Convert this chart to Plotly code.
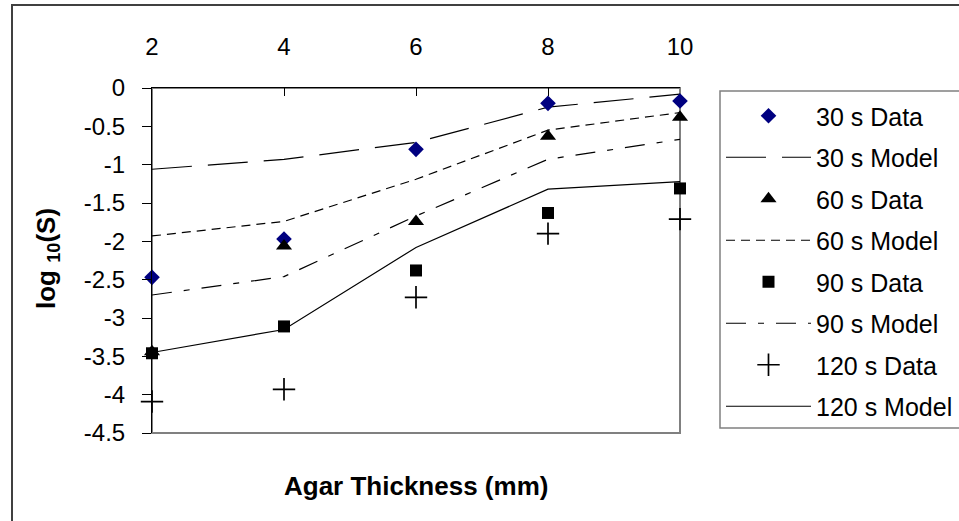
import plotly.graph_objects as go

# Agar thickness (mm)
thickness = [2, 4, 6, 8, 10]

# log10 survival, measured
data_30 = [-2.47, -1.97, -0.80, -0.20, -0.17]
data_60 = [-3.44, -2.06, -1.74, -0.63, -0.38]
data_90 = [-3.46, -3.11, -2.38, -1.63, -1.31]
data_120 = [-4.09, -3.93, -2.73, -1.90, -1.71]

# log10 survival, model
model_30 = [-1.06, -0.93, -0.71, -0.25, -0.08]
model_60 = [-1.93, -1.74, -1.19, -0.55, -0.32]
model_90 = [-2.70, -2.46, -1.67, -0.93, -0.67]
model_120 = [-3.45, -3.15, -2.08, -1.32, -1.22]

x_ticks = [2, 4, 6, 8, 10]
y_ticks = [0, -0.5, -1, -1.5, -2, -2.5, -3, -3.5, -4, -4.5]
y_tick_text = ["0", "-0.5", "-1", "-1.5", "-2", "-2.5", "-3", "-3.5", "-4", "-4.5"]

# canvas geometry (pixels)
W, H = 959, 521
L, R, T, B = 152, 680, 88, 433


def px(xp):
    return (xp - L) / (R - L)


def py(yp):
    return (B - yp) / (B - T)


FONT = "Liberation Sans, Arial, sans-serif"

fig = go.Figure()

models = [
    ("30 s Model", model_30, "40px,16px", 2),
    ("60 s Model", model_60, "9px,6px", 4),
    ("90 s Model", model_90, "20px,12px,6px,12px", 6),
    ("120 s Model", model_120, "solid", 8),
]
for name, ys, dash, rank in models:
    fig.add_trace(go.Scatter(
        x=thickness, y=ys, mode="lines", name=name,
        line=dict(color="black", width=1.2, dash=dash),
        legendrank=rank, legendgroup=name, cliponaxis=False,
    ))

datasets = [
    ("30 s Data", data_30, dict(symbol="diamond", size=12, color="#000080"), 1),
    ("60 s Data", data_60, dict(symbol="triangle-up", size=14, color="black"), 3),
    ("90 s Data", data_90, dict(symbol="square", size=12, color="black"), 5),
    ("120 s Data", data_120, dict(symbol="cross-thin", size=16, color="black",
                                  line=dict(color="black", width=1.7)), 7),
]
for name, ys, marker, rank in datasets:
    fig.add_trace(go.Scatter(
        x=thickness, y=ys, mode="markers", name=name,
        marker=marker, legendrank=rank, legendgroup=name, cliponaxis=False,
    ))

shapes = [
    # gray frame on the bottom and right of the plot area
    dict(type="rect", xref="x domain", yref="y domain", x0=0, x1=1, y0=0, y1=1,
         line=dict(color="#808080", width=2), layer="below"),
    # chart border
    dict(type="rect", xref="paper", yref="paper",
         x0=px(12), x1=px(975), y0=py(5), y1=py(540),
         line=dict(color="#404040", width=2), layer="below"),
    # legend frame
    dict(type="rect", xref="paper", yref="paper",
         x0=px(720), x1=px(975), y0=py(91), y1=py(428),
         line=dict(color="#808080", width=1.5), layer="below"),
]

fig.update_layout(
    width=W, height=H,
    margin=dict(l=L, r=W - R, t=T, b=H - B, autoexpand=False),
    paper_bgcolor="white", plot_bgcolor="white",
    font=dict(family=FONT, size=24, color="black"),
    showlegend=True,
    legend=dict(
        x=px(721), y=py(93), xanchor="left", yanchor="top",
        bgcolor="rgba(0,0,0,0)", borderwidth=0,
        itemwidth=85, tracegroupgap=6, maxheight=480,
        font=dict(family=FONT, size=25, color="black"),
    ),
    shapes=shapes,
    annotations=[
        dict(text="<b>Agar Thickness (mm)</b>", xref="paper", yref="paper",
             x=0.5, y=py(486), xanchor="center", yanchor="middle",
             showarrow=False, font=dict(family=FONT, size=26, color="black")),
        dict(text="<b>log <sub>10</sub>(S)</b>", xref="paper", yref="paper",
             x=px(47), y=py(259), xanchor="center", yanchor="middle",
             textangle=-90, showarrow=False,
             font=dict(family=FONT, size=26, color="black")),
    ],
)

fig.update_xaxes(
    range=[2, 10], side="top", tickvals=x_ticks,
    ticks="inside", ticklen=8, tickcolor="black", tickwidth=1,
    showline=True, linecolor="black", linewidth=1,
    showgrid=False, zeroline=False, ticklabelstandoff=22,
    tickfont=dict(family=FONT, size=24, color="black"),
)
fig.update_yaxes(
    range=[-4.5, 0], tickvals=y_ticks, ticktext=y_tick_text,
    ticks="outside", ticklen=9, tickcolor="black", tickwidth=1,
    showline=True, linecolor="black", linewidth=1,
    showgrid=False, zeroline=False, ticklabelstandoff=12,
    tickfont=dict(family=FONT, size=24, color="black"),
)

fig.write_html("out.html")
